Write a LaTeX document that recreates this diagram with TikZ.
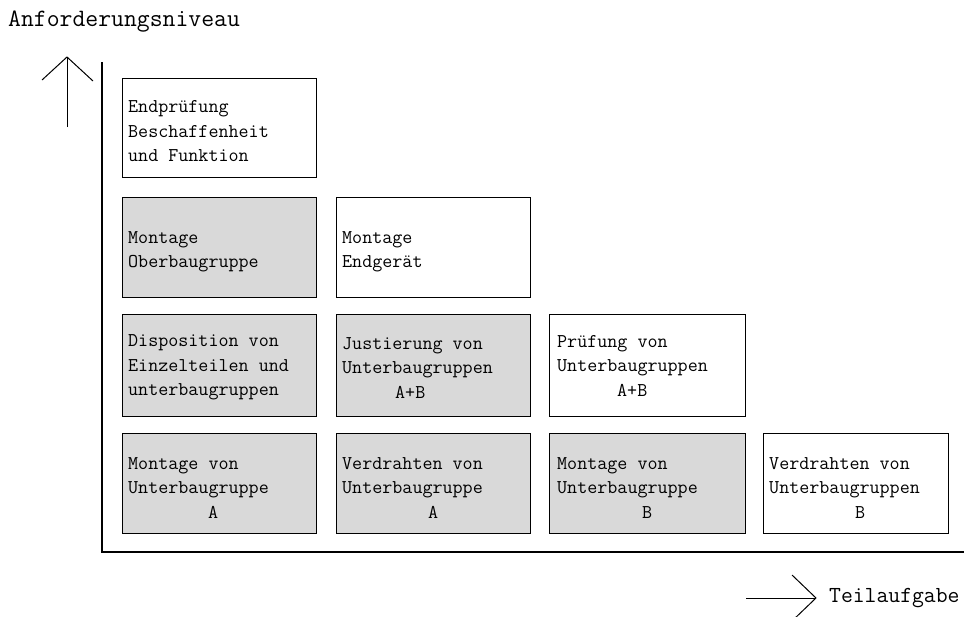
\documentclass[tikz,border=0pt]{standalone}
\usepackage{fontspec}
\definecolor{boxgrey}{HTML}{D9D9D9}
\begin{document}
\begin{tikzpicture}[x=1pt,y=-1pt,
  box/.style={draw, line width=1.1pt, rectangle, inner sep=0pt,
    minimum height=100pt, minimum width=194pt, anchor=north west},
  grey/.style={box, fill=boxgrey},
  lbl/.style={anchor=west, inner sep=0pt, align=left,
    font=\ttfamily\fontsize{19.5}{24.5}\selectfont},
  axis/.style={line width=1.2pt},
  arr/.style={line width=1pt}]
\useasboundingbox (0,0) rectangle (964,616);
\clip (0,0) rectangle (964,616);

% titles
\node[anchor=west, inner sep=0pt, font=\ttfamily\fontsize{25}{28}\selectfont] (title) at (8,22) {Anforderungsniveau};
\node[anchor=west, inner sep=0pt, font=\ttfamily\fontsize{23}{26}\selectfont] (teil) at (829,598) {Teilaufgabe};

% axes
\coordinate (ytop) at (102,62);
\coordinate (orig) at (102,552);
\coordinate (xend) at (966,552);
\draw[axis] (ytop) -- (orig) -- (xend);

% up arrow
\coordinate (ua0) at (67,127);
\coordinate (ua1) at (67,57);
\coordinate (ual) at (42,80);
\coordinate (uar) at (93,81);
\draw[arr] (ua0) -- (ua1);
\draw[arr] (ual) -- (ua1) -- (uar);

% right arrow
\coordinate (ra0) at (746,598);
\coordinate (ra1) at (816,598);
\coordinate (rat) at (792,575);
\coordinate (rab) at (792,621);
\draw[arr] (ra0) -- (ra1);
\draw[arr] (rat) -- (ra1) -- (rab);

% boxes
\node[box, minimum height=99pt] (b11) at (122,78) {};
\node[grey] (b21) at (122,197) {};
\node[box] (b22) at (336,197) {};
\node[grey, minimum height=102pt] (b31) at (122,314) {};
\node[grey, minimum height=102pt] (b32) at (336,314) {};
\node[box, minimum height=102pt, minimum width=196pt] (b33) at (549,314) {};
\node[grey] (b41) at (122,433) {};
\node[grey] (b42) at (336,433) {};
\node[grey, minimum width=196pt] (b43) at (549,433) {};
\node[box, minimum width=185pt] (b44) at (763,433) {};

% texts
\node[lbl] (t11) at ([xshift=6pt,yshift=-3pt]b11.west) {Endprüfung\\Beschaffenheit\\und Funktion};
\node[lbl] (t21) at ([xshift=6pt,yshift=-4pt]b21.west) {Montage\\Oberbaugruppe};
\node[lbl] (t22) at ([xshift=6pt,yshift=-4pt]b22.west) {Montage\\Endgerät};
\node[lbl] (t31) at ([xshift=6pt,yshift=-2pt]b31.west) {Disposition von\\Einzelteilen und\\unterbaugruppen};
\node[lbl] (t32) at ([xshift=6pt,yshift=-2pt]b32.west) {Justierung von\\Unterbaugruppen\\\hspace*{53pt}A+B};
\node[lbl] (t33) at ([xshift=8pt,yshift=0pt]b33.west) {Prüfung von\\Unterbaugruppen\\\hspace*{60pt}A+B};
\node[lbl] (t41) at ([xshift=6pt,yshift=-4pt]b41.west) {Montage von\\Unterbaugruppe\\\hspace*{80pt}A};
\node[lbl] (t42) at ([xshift=6pt,yshift=-4pt]b42.west) {Verdrahten von\\Unterbaugruppe\\\hspace*{86pt}A};
\node[lbl] (t43) at ([xshift=8pt,yshift=-4pt]b43.west) {Montage von\\Unterbaugruppe\\\hspace*{85pt}B};
\node[lbl] (t44) at ([xshift=6pt,yshift=-4pt]b44.west) {Verdrahten von\\Unterbaugruppen\\\hspace*{86pt}B};
\end{tikzpicture}
\end{document}
